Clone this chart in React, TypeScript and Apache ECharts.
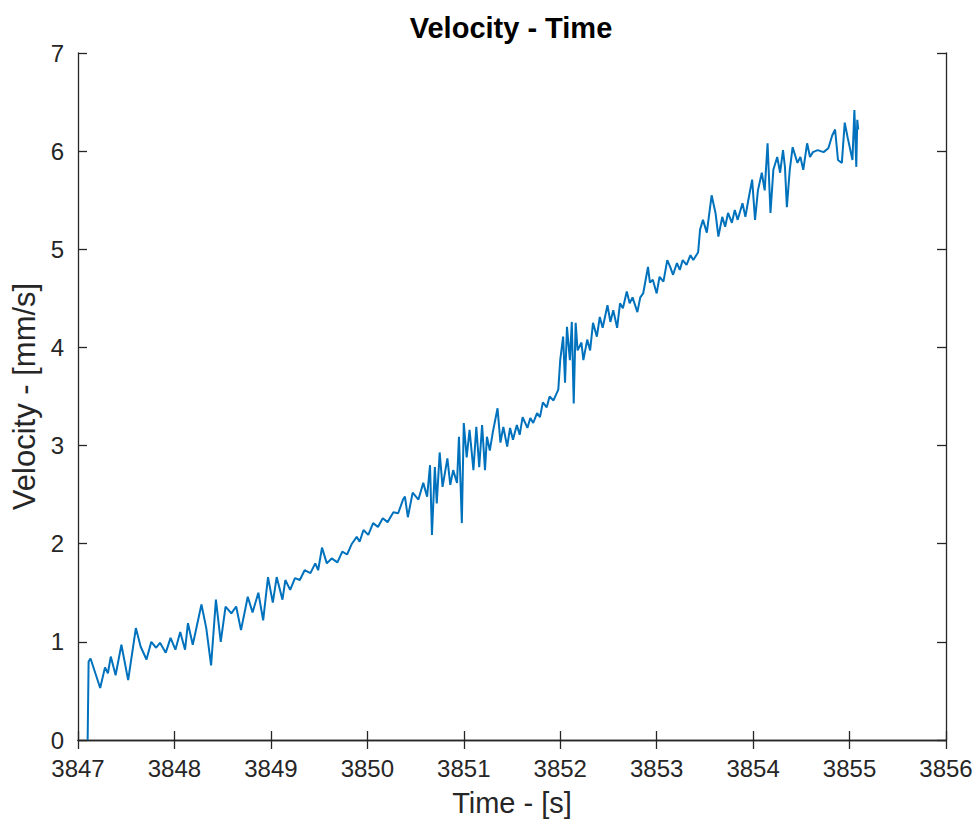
import React, { useEffect, useRef } from "react";
import * as echarts from "echarts";

const xTicks = [3847, 3848, 3849, 3850, 3851, 3852, 3853, 3854, 3855, 3856];
const yTicks = [0, 1, 2, 3, 4, 5, 6, 7];

const times = [
  3847.10, 3847.11, 3847.13, 3847.23, 3847.28, 3847.31, 3847.34, 3847.39, 3847.45, 3847.52,
  3847.60, 3847.65, 3847.71, 3847.76, 3847.81, 3847.85, 3847.91, 3847.96, 3848.01, 3848.06,
  3848.11, 3848.14, 3848.19, 3848.28, 3848.33, 3848.38, 3848.43, 3848.48, 3848.53, 3848.59,
  3848.64, 3848.69, 3848.74, 3848.76, 3848.81, 3848.87, 3848.92, 3848.97, 3849.02, 3849.06,
  3849.12, 3849.15, 3849.20, 3849.25, 3849.30, 3849.35, 3849.41, 3849.46, 3849.49, 3849.53,
  3849.58, 3849.63, 3849.69, 3849.74, 3849.79, 3849.84, 3849.89, 3849.92, 3849.96, 3850.01,
  3850.06, 3850.11, 3850.16, 3850.21, 3850.27, 3850.32, 3850.37, 3850.39, 3850.42, 3850.47,
  3850.53, 3850.58, 3850.62, 3850.65, 3850.67, 3850.70, 3850.72, 3850.75, 3850.78, 3850.83,
  3850.86, 3850.89, 3850.93, 3850.95, 3850.98, 3851.00, 3851.03, 3851.06, 3851.10, 3851.13,
  3851.16, 3851.19, 3851.22, 3851.24, 3851.27, 3851.30, 3851.35, 3851.38, 3851.41, 3851.45,
  3851.48, 3851.51, 3851.55, 3851.58, 3851.61, 3851.66, 3851.69, 3851.72, 3851.76, 3851.79,
  3851.82, 3851.86, 3851.89, 3851.93, 3851.98, 3852.00, 3852.03, 3852.05, 3852.07, 3852.10,
  3852.12, 3852.14, 3852.16, 3852.18, 3852.22, 3852.24, 3852.28, 3852.31, 3852.34, 3852.38,
  3852.41, 3852.44, 3852.49, 3852.52, 3852.55, 3852.59, 3852.62, 3852.65, 3852.69, 3852.72,
  3852.75, 3852.80, 3852.83, 3852.86, 3852.91, 3852.93, 3852.96, 3853.00, 3853.03, 3853.07,
  3853.11, 3853.14, 3853.17, 3853.21, 3853.24, 3853.27, 3853.31, 3853.35, 3853.38, 3853.43,
  3853.45, 3853.48, 3853.52, 3853.57, 3853.61, 3853.64, 3853.68, 3853.71, 3853.74, 3853.78,
  3853.81, 3853.84, 3853.89, 3853.92, 3853.95, 3853.99, 3854.02, 3854.05, 3854.09, 3854.12,
  3854.15, 3854.18, 3854.21, 3854.25, 3854.28, 3854.31, 3854.33, 3854.35, 3854.38, 3854.41,
  3854.46, 3854.49, 3854.52, 3854.56, 3854.59, 3854.62, 3854.67, 3854.73, 3854.78, 3854.82,
  3854.85, 3854.88, 3854.92, 3854.95, 3854.98, 3855.03, 3855.05, 3855.07, 3855.08, 3855.09,
];

const velocities = [
  0.00, 0.80, 0.83, 0.53, 0.74, 0.68, 0.85, 0.66, 0.97, 0.61,
  1.14, 0.95, 0.82, 1.00, 0.94, 0.99, 0.89, 1.04, 0.92, 1.10,
  0.92, 1.19, 0.97, 1.38, 1.14, 0.76, 1.43, 1.00, 1.36, 1.29,
  1.36, 1.12, 1.36, 1.46, 1.30, 1.50, 1.22, 1.66, 1.40, 1.66,
  1.43, 1.63, 1.53, 1.65, 1.63, 1.73, 1.70, 1.80, 1.73, 1.96,
  1.80, 1.85, 1.81, 1.92, 1.89, 2.00, 2.07, 2.02, 2.14, 2.09,
  2.21, 2.17, 2.26, 2.22, 2.32, 2.31, 2.45, 2.48, 2.27, 2.52,
  2.45, 2.62, 2.48, 2.80, 2.09, 2.78, 2.41, 2.93, 2.58, 2.87,
  2.60, 2.75, 2.62, 3.09, 2.21, 3.23, 2.88, 3.16, 2.75, 3.19,
  2.78, 3.21, 2.75, 3.09, 2.95, 3.13, 3.38, 3.03, 3.19, 2.99,
  3.18, 3.06, 3.21, 3.11, 3.29, 3.18, 3.28, 3.23, 3.33, 3.29,
  3.44, 3.39, 3.50, 3.46, 3.57, 3.87, 4.11, 3.64, 4.21, 3.87,
  4.26, 3.43, 4.25, 3.97, 4.05, 3.87, 4.08, 3.97, 4.25, 4.11,
  4.31, 4.20, 4.43, 4.26, 4.38, 4.20, 4.45, 4.40, 4.57, 4.45,
  4.51, 4.36, 4.51, 4.55, 4.82, 4.66, 4.69, 4.55, 4.72, 4.67,
  4.89, 4.82, 4.74, 4.86, 4.79, 4.89, 4.84, 4.94, 4.89, 4.97,
  5.20, 5.30, 5.17, 5.55, 5.37, 5.13, 5.33, 5.23, 5.37, 5.27,
  5.40, 5.30, 5.47, 5.33, 5.50, 5.71, 5.30, 5.60, 5.78, 5.60,
  6.08, 5.37, 5.81, 5.94, 5.78, 6.01, 5.84, 5.43, 5.81, 6.04,
  5.88, 5.94, 5.81, 6.08, 5.94, 5.99, 6.01, 5.99, 6.03, 6.16,
  6.22, 5.91, 5.88, 6.29, 6.14, 5.91, 6.42, 5.84, 6.32, 6.22,
];

const AXIS_COLOR = "#262626";
const FONT = "'Liberation Sans', Arial, Helvetica, sans-serif";

export default function App() {
  const ref = useRef<HTMLDivElement>(null);

  useEffect(() => {
    if (!ref.current) return;
    const chart = echarts.init(ref.current, null, { renderer: "svg" });
    const data = times.map((t, i) => [t, velocities[i]]);
    const xMin = xTicks[0];
    const xMax = xTicks[xTicks.length - 1];
    const yMin = yTicks[0];
    const yMax = yTicks[yTicks.length - 1];

    const axisLine = { show: true, lineStyle: { color: AXIS_COLOR, width: 1.3 } };
    const tick = { show: true, inside: true, length: 9, lineStyle: { color: AXIS_COLOR, width: 1.3 } };
    const label = { color: AXIS_COLOR, fontFamily: FONT, fontSize: 24 };

    chart.setOption({
      animation: false,
      backgroundColor: "#ffffff",
      title: {
        text: "Velocity - Time",
        left: 511,
        top: 13,
        padding: 0,
        textAlign: "center",
        textStyle: { fontFamily: FONT, fontSize: 29, fontWeight: "bold", color: "#000000" },
      },
      grid: { left: 78, right: 33, top: 53, bottom: 86, containLabel: false },
      xAxis: [
        {
          type: "value",
          min: xMin,
          max: xMax,
          interval: 1,
          name: "Time - [s]",
          nameLocation: "middle",
          nameGap: 48,
          nameTextStyle: { color: AXIS_COLOR, fontFamily: FONT, fontSize: 29 },
          axisLine,
          axisTick: tick,
          axisLabel: { ...label, margin: 16, formatter: (v: number) => String(v) },
          splitLine: { show: false },
        },
        {
          type: "value",
          position: "top",
          min: xMin,
          max: xMax,
          interval: 1,
          axisLine,
          axisTick: tick,
          axisLabel: { show: false },
          splitLine: { show: false },
        },
      ],
      yAxis: [
        {
          type: "value",
          min: yMin,
          max: yMax,
          interval: 1,
          name: "Velocity - [mm/s]",
          nameLocation: "middle",
          nameGap: 34,
          nameTextStyle: { color: AXIS_COLOR, fontFamily: FONT, fontSize: 31 },
          axisLine,
          axisTick: tick,
          axisLabel: { ...label, margin: 14 },
          splitLine: { show: false },
        },
        {
          type: "value",
          position: "right",
          min: yMin,
          max: yMax,
          interval: 1,
          axisLine,
          axisTick: tick,
          axisLabel: { show: false },
          splitLine: { show: false },
        },
      ],
      series: [
        {
          type: "line",
          data,
          showSymbol: false,
          symbol: "none",
          lineStyle: { color: "#0072BD", width: 2 },
          xAxisIndex: 0,
          yAxisIndex: 0,
        },
      ],
    });
    return () => chart.dispose();
  }, []);

  return (
    <div
      ref={ref}
      style={{ position: "fixed", left: 0, top: 0, width: 979, height: 826, background: "#fff" }}
    />
  );
}
